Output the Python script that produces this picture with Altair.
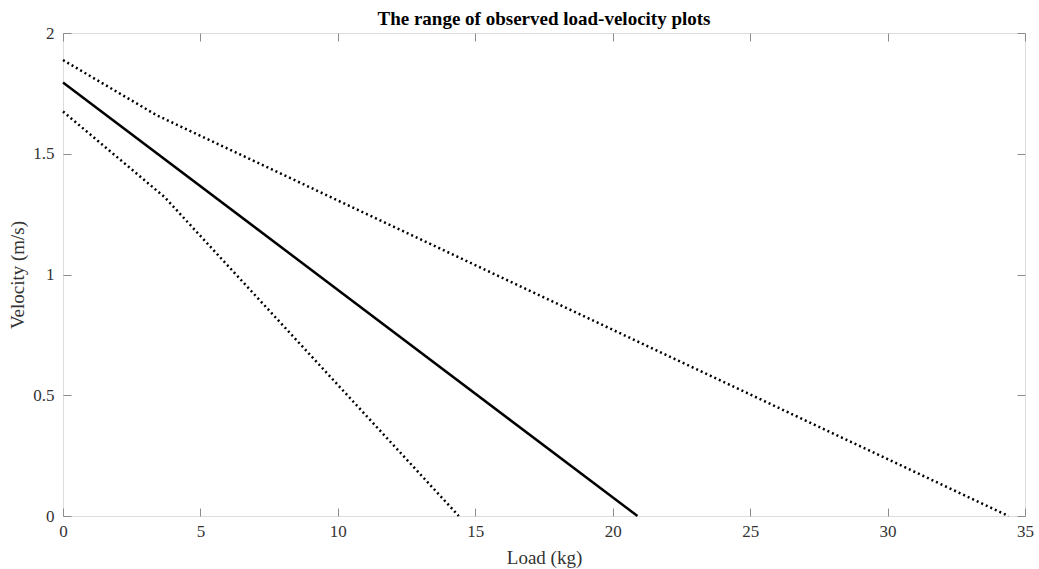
import altair as alt
import pandas as pd

# Data
load_mean = [0.0, 20.9]
vel_mean = [1.795, 0.0]
load_upper = [0.0, 3.4, 34.4]
vel_upper = [1.888, 1.66, 0.0]
load_lower = [0.0, 3.7, 14.4]
vel_lower = [1.675, 1.32, 0.0]
x_ticks = [0, 5, 10, 15, 20, 25, 30, 35]
y_ticks = [0, 0.5, 1, 1.5, 2]

mean_df = pd.DataFrame({"load": load_mean, "vel": vel_mean, "series": "mean"})
range_df = pd.concat([
    pd.DataFrame({"load": load_upper, "vel": vel_upper, "series": "upper"}),
    pd.DataFrame({"load": load_lower, "vel": vel_lower, "series": "lower"}),
])

FONT = "Liberation Serif"
GRAY = "#8c8c8c"
LABEL = "#333333"

xs = alt.Scale(domain=[0, 35], nice=False, zero=False)
ys = alt.Scale(domain=[0, 2], nice=False, zero=False)

common_axis = dict(
    domain=False, grid=False, tickColor=GRAY, tickSize=8, offset=-8,
    labelFont=FONT, labelFontSize=17, labelColor=LABEL,
    titleFont=FONT, titleFontSize=19, titleFontWeight="normal", titleColor=LABEL,
)

x_bottom = alt.Axis(orient="bottom", values=x_ticks, labelPadding=7, title="Load (kg)",
                    titlePadding=9, format="d", labelFlush=False, **common_axis)
y_left = alt.Axis(orient="left", values=y_ticks, labelPadding=9, title="Velocity (m/s)",
                  titlePadding=5, format="~g", labelFlush=False, **common_axis)
x_top = alt.Axis(orient="top", values=x_ticks, labels=False, title=None, **common_axis)
y_right = alt.Axis(orient="right", values=y_ticks, labels=False, title=None, **common_axis)

solid = alt.Chart(mean_df).mark_line(color="black", strokeWidth=2.5).encode(
    x=alt.X("load:Q", scale=xs, axis=x_bottom),
    y=alt.Y("vel:Q", scale=ys, axis=y_left),
)

dotted = alt.Chart(range_df).mark_line(color="black", strokeWidth=2.5, strokeDash=[2, 3]).encode(
    x=alt.X("load:Q", scale=xs, axis=x_top),
    y=alt.Y("vel:Q", scale=ys, axis=y_right),
    detail="series:N",
)

chart = alt.layer(solid, dotted).resolve_axis(x="independent", y="independent").properties(
    width=962,
    height=483,
    autosize=alt.AutoSizeParams(type="none"),
    padding={"left": 63, "top": 33, "right": 14, "bottom": 53},
    title=alt.TitleParams(
        "The range of observed load-velocity plots",
        font=FONT, fontSize=19, fontWeight="bold", color="black",
        anchor="middle", offset=0, dy=5,
    ),
).configure_view(stroke=GRAY, strokeWidth=1).configure(background="white")

chart.save("out.html", embed_options={"renderer": "svg", "actions": False})
